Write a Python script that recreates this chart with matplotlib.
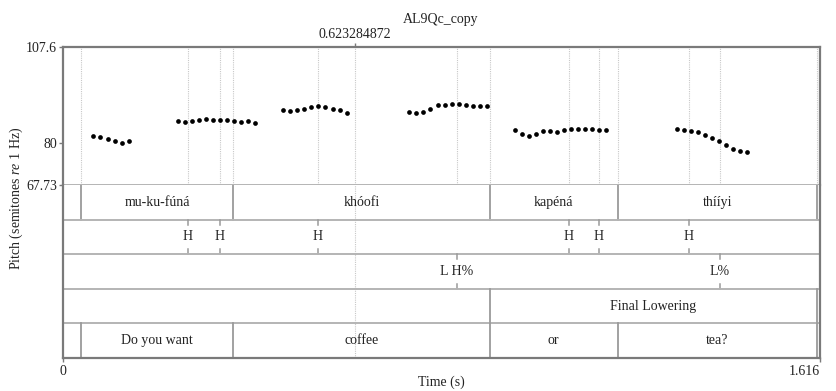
import matplotlib.pyplot as plt

plt.rcParams['font.family'] = ['Liberation Serif', 'DejaVu Serif']
plt.rcParams['font.size'] = 10
plt.rcParams['mathtext.fontset'] = 'custom'
plt.rcParams['mathtext.rm'] = 'Liberation Serif'
plt.rcParams['mathtext.it'] = 'Liberation Serif:italic'

W, H = 837, 391
T_END = 1.616
P_TOP, P_BOT = 107.6, 67.73
CURSOR = 0.623284872

# pitch track (s, semitones re 1 Hz), one list per voiced stretch
seg_times = [
    [0.066, 0.081, 0.096, 0.111, 0.126, 0.141],
    [0.246, 0.261, 0.276, 0.291, 0.306, 0.321, 0.336, 0.351, 0.366, 0.381, 0.396, 0.411],
    [0.471, 0.486, 0.501, 0.516, 0.531, 0.546, 0.561, 0.576, 0.591, 0.606],
    [0.740, 0.755, 0.770, 0.785, 0.800, 0.815, 0.830, 0.845, 0.860, 0.875, 0.890, 0.905],
    [0.965, 0.980, 0.995, 1.010, 1.025, 1.040, 1.055, 1.070, 1.085, 1.100, 1.115, 1.130,
     1.145, 1.160],
    [1.310, 1.325, 1.340, 1.355, 1.370, 1.385, 1.400, 1.415, 1.430, 1.445, 1.460],
]
seg_pitch = [
    [81.89, 81.60, 81.02, 80.36, 79.95, 80.36],
    [86.31, 86.02, 86.31, 86.60, 86.80, 86.60, 86.51, 86.42, 86.31, 86.02, 86.22, 85.64],
    [89.31, 89.11, 89.40, 89.77, 90.18, 90.47, 90.26, 89.77, 89.31, 88.53],
    [88.82, 88.62, 88.82, 89.60, 90.76, 90.93, 91.13, 91.13, 90.93, 90.64, 90.55, 90.47],
    [83.53, 82.46, 81.97, 82.55, 83.24, 83.33, 83.04, 83.62, 83.82, 83.99, 83.91, 83.91,
     83.71, 83.53],
    [83.99, 83.71, 83.42, 82.95, 82.17, 81.31, 80.35, 79.20, 78.13, 77.64, 77.35],
]

# tiers: interval tiers as (boundaries, labels), point tiers as (times, labels)
words_bounds = [0.0395, 0.364, 0.911, 1.185, 1.6094]
words_labels = ["mu-ku-fúná", "khóofi", "kapéná", "thííyi"]
tone_times = [0.2677, 0.336, 0.545, 1.0804, 1.1444, 1.3364]
tone_labels = ["H", "H", "H", "H", "H", "H"]
bt_times = [0.8415, 1.4025]
bt_labels = ["L H%", "L%"]
fl_bounds = [0.911, 1.6094]
fl_labels = ["Final Lowering"]
gloss_bounds = [0.0395, 0.364, 0.911, 1.185, 1.6094]
gloss_labels = ["Do you want", "coffee", "or", "tea?"]

tiers = [
    ("interval", words_bounds, words_labels),
    ("point", tone_times, tone_labels),
    ("point", bt_times, bt_labels),
    ("interval", fl_bounds, fl_labels),
    ("interval", gloss_bounds, gloss_labels),
]

FRAME = '#7a7a7a'
TIERLINE = '#b4b4b4'
BOUND = '#9a9a9a'
DOT = '#c8c8c8'
TXT = '#222222'

fig = plt.figure(figsize=(W / 100, H / 100), dpi=100)
x0, x1 = 62.5, 820
y_top, y_mid, y_bot = 47, 185, 358
axp = fig.add_axes([x0 / W, 1 - y_mid / H, (x1 - x0) / W, (y_mid - y_top) / H])
axt = fig.add_axes([x0 / W, 1 - y_bot / H, (x1 - x0) / W, (y_bot - y_mid) / H])

for ax in (axp, axt):
    ax.set_xlim(0, T_END)
    for s in ax.spines.values():
        s.set_color(FRAME)
        s.set_linewidth(1.6)
axp.set_ylim(P_BOT, P_TOP)
axt.set_ylim(0, len(tiers))
axp.spines['bottom'].set_visible(False)
axt.spines['top'].set_visible(False)

# dotted guides in pitch area
guides = sorted(set(words_bounds + tone_times + bt_times + fl_bounds + gloss_bounds))
for g in guides:
    axp.axvline(g, color=DOT, ls=(0, (1, 1)), lw=0.8, zorder=1)
axp.axvline(CURSOR, color=DOT, ls=(0, (1, 1)), lw=0.8, zorder=1)
axt.axvline(CURSOR, color=DOT, ls=(0, (1, 1)), lw=0.8, zorder=1)

for ts, ps in zip(seg_times, seg_pitch):
    axp.plot(ts, ps, 'o', color='black', ms=3.4, mec='none', zorder=3)

axp.axhline(P_BOT, color=TIERLINE, lw=1.4, clip_on=False)
n = len(tiers)
for i, (kind, xs, labels) in enumerate(tiers):
    top = n - i
    bot = top - 1
    if i > 0:
        axt.axhline(top, color=TIERLINE, lw=1.4)
    mid = (top + bot) / 2
    if kind == "interval":
        for b in xs:
            axt.plot([b, b], [bot, top], color=BOUND, lw=1.3)
        for a, b, lab in zip(xs[:-1], xs[1:], labels):
            axt.text((a + b) / 2, mid, lab, ha='center', va='center', fontsize=10, color=TXT)
    else:
        for t, lab in zip(xs, labels):
            axt.plot([t, t], [top, top - 0.15], color=BOUND, lw=1.1)
            axt.plot([t, t], [bot, bot + 0.15], color=BOUND, lw=1.1)
            axt.text(t, mid, lab, ha='center', va='center', fontsize=10, color=TXT)

axp.set_yticks([P_BOT, 80, P_TOP])
axp.set_yticklabels(['67.73', '80', '107.6'])
axp.tick_params(axis='y', length=3, width=1, color=FRAME, pad=1, labelsize=10, labelcolor=TXT)
axp.tick_params(axis='x', which='both', bottom=False, labelbottom=False, top=True,
                labeltop=False, length=3, width=1, color=FRAME)
axp.set_xticks([CURSOR])
axt.set_yticks([])
axt.set_xticks([0, T_END])
axt.set_xticklabels(['0', '1.616'])
axt.tick_params(axis='x', length=3, width=1, color=FRAME, pad=2, labelsize=10, labelcolor=TXT)
axt.get_xticklabels()[1].set_ha('right')

fig.text(441 / W, 1 - 20 / H, "AL9Qc_copy", ha='center', va='center', fontsize=10, color=TXT)
fig.text(354.5 / W, 1 - 34 / H, "0.623284872", ha='center', va='center', fontsize=10, color=TXT)
fig.text(441 / W, 1 - 382 / H, "Time (s)", ha='center', va='center', fontsize=10, color=TXT)
fig.text(16 / W, 1 - 198 / H, "Pitch (semitones $\\it{re}$ 1 Hz)", rotation=90,
         ha='center', va='center', fontsize=10, color=TXT)

fig.savefig('out.png', dpi=100)
